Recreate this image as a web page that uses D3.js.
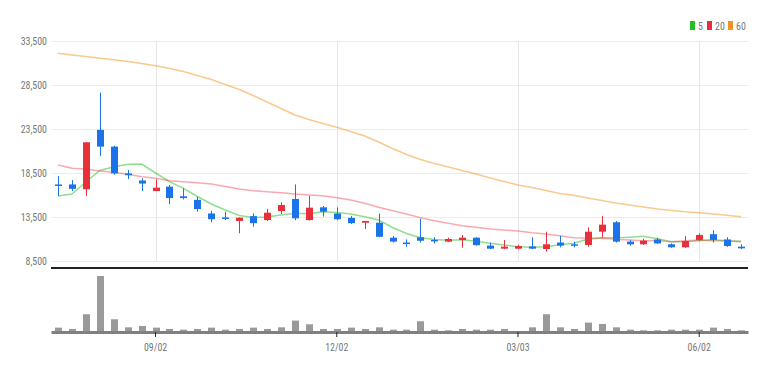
<!DOCTYPE html>
<html>
<head>
<meta charset="utf-8">
<script src="https://cdn.jsdelivr.net/npm/d3@7"></script>
<style>
  html, body { margin: 0; padding: 0; background: #fff; }
  svg text { font-family: 'Liberation Sans Narrow', 'Arial Narrow', 'Roboto', sans-serif; font-stretch: condensed; }
</style>
</head>
<body>
<svg id="canvas" width="768" height="373"></svg>
<script>
(function() {
// weekly candles, Jul 2024 - Jun 2025
var dates = ["2024-07-15","2024-07-22","2024-07-29","2024-08-05","2024-08-12","2024-08-19","2024-08-26",
  "2024-09-02","2024-09-09","2024-09-16","2024-09-23","2024-09-30","2024-10-07","2024-10-14","2024-10-21",
  "2024-10-28","2024-11-04","2024-11-11","2024-11-18","2024-11-25","2024-12-02","2024-12-09","2024-12-16",
  "2024-12-23","2024-12-30","2025-01-06","2025-01-13","2025-01-20","2025-01-27","2025-02-03","2025-02-10",
  "2025-02-17","2025-02-24","2025-03-03","2025-03-10","2025-03-17","2025-03-24","2025-03-31","2025-04-07",
  "2025-04-14","2025-04-21","2025-04-28","2025-05-05","2025-05-12","2025-05-19","2025-05-26","2025-06-02",
  "2025-06-09","2025-06-16","2025-06-23"]

var open  = [17200,17200,16650,23400,21500,18450,17650,16450,16950,15850,15450,13900,13450,13050,13600,13150,
  14180,15550,13150,14600,13900,13400,12850,12850,11150,10600,11200,10900,10700,10890,11150,10250,9900,9900,
  10150,9860,10600,10400,10320,11830,12900,10700,10400,10950,10400,10060,10890,11550,10950,10130]
var high  = [18150,17700,22000,27650,21600,18850,17900,17780,17150,16750,15800,14200,14100,13450,13900,14400,
  15170,17200,15920,14750,14600,13600,13050,13900,11350,10950,13300,11200,11150,11450,11200,10600,10890,10350,
  11200,11830,11350,10700,12330,13610,13050,10900,11030,11150,10500,11340,11650,12000,11200,10400]
var low   = [15900,16450,15890,20450,18300,17800,16450,16450,14950,15500,14100,12900,13150,11650,12400,13050,
  13840,13150,13100,13550,13150,12700,12140,11200,10600,10100,10600,10500,10650,10010,10250,9850,9850,9850,
  9850,9560,10050,10050,10130,11150,10600,10250,10320,10450,10000,10000,10800,10600,10100,9850]
var close = [17100,16700,21990,21500,18450,18250,17300,16830,15650,15650,14400,13250,13350,13420,12800,13990,
  14860,13350,14560,14100,13250,12800,13050,11250,10700,10450,10800,10800,11000,11150,10300,9900,10130,10200,
  9900,10400,10250,10300,11830,12630,10700,10400,10810,10500,10060,10770,11460,10900,10200,9940]

var ma5  = [15890,16110,17480,18780,19220,19490,19520,18500,17510,16760,15830,14980,14300,13670,13440,13500,
  13730,13920,13880,14100,14010,13840,13530,13160,12310,11630,11140,10940,10850,10920,10740,10510,10320,10130,
  10060,10130,10350,10510,10970,11140,11140,11210,11310,11020,10690,10690,10800,10920,10810,10750]
var ma20 = [19410,19030,18960,18730,18580,18350,18080,17900,17630,17510,17400,17250,16970,16680,16490,16380,
  16260,16110,16000,15920,15690,15430,15060,14600,14220,13840,13420,13080,12780,12510,12330,12140,12020,11910,
  11720,11570,11380,11150,11080,11080,10970,10890,10810,10810,10690,10810,10890,10810,10770,10690]
var ma60 = [32100,31910,31740,31550,31360,31170,30940,30690,30380,30030,29580,29130,28560,27990,27310,26570,
  25830,25090,24580,24130,23690,23220,22700,22020,21280,20600,20030,19580,19180,18780,18390,17930,17530,17140,
  16850,16510,16170,15970,15660,15380,15090,14860,14640,14410,14240,14090,13990,13840,13690,13530]

var volume = [130000,90000,530000,1670000,380000,140000,180000,130000,90000,70000,90000,130000,70000,90000,
  130000,90000,140000,340000,230000,90000,90000,130000,90000,140000,70000,70000,320000,70000,50000,90000,
  70000,70000,90000,30000,140000,530000,140000,90000,280000,240000,140000,70000,50000,50000,70000,70000,
  70000,130000,90000,50000]

var yTicks = [8500, 13500, 18500, 23500, 28500, 33500]
var xTicks = ["2024-09-02", "2024-12-02", "2025-03-03", "2025-06-02"]

var maNames = ["5", "20", "60"]
var maColors = ["#22bf22", "#ee2b3b", "#f39322"]

var upColor = "#e8303a", downColor = "#1a73e8"
var left = 51, right = 748

const svg = d3.select("#canvas")

var x = d3.scaleBand().domain(dates).range([left, right])
var y = d3.scaleLinear().domain([8500, 33500]).range([261, 41])
var yv = d3.scaleLinear().domain([0, d3.max(volume)]).range([332, 276])

// squeeze text a bit, the original uses a condensed face
function narrow(sel) {
  sel.each(function() {
    var w = this.getComputedTextLength()
    d3.select(this).attr("textLength", w * 0.86).attr("lengthAdjust", "spacingAndGlyphs")
  })
}

// horizontal grid + price labels
var yAxis = svg.append("g")
  .attr("transform", "translate(" + left + ",0)")
  .call(d3.axisLeft(y).tickValues(yTicks).tickSize(-(right - left)).tickPadding(4)
    .tickFormat(d3.format(",")))
yAxis.select(".domain").remove()
yAxis.selectAll("line").attr("stroke", "#ececec")
yAxis.selectAll("text").attr("fill", "#777").style("font-size", "11.5px").call(narrow)

// vertical grid at date ticks
svg.append("g")
  .selectAll("line")
  .data(xTicks)
  .join("line")
  .attr("x1", d => Math.round(x(d) + x.bandwidth() / 2) + 0.5)
  .attr("x2", d => Math.round(x(d) + x.bandwidth() / 2) + 0.5)
  .attr("y1", y(33500))
  .attr("y2", y(8500))
  .attr("stroke", "#e6e6e6")

// moving averages
var maData = [ma5, ma20, ma60]
var line = d3.line()
  .x((d, i) => x(dates[i]) + x.bandwidth() / 2)
  .y(d => y(d))
svg.append("g")
  .selectAll("path")
  .data(maData)
  .join("path")
  .attr("d", line)
  .attr("fill", "none")
  .attr("stroke", (d, i) => maColors[i])
  .attr("stroke-opacity", (d, i) => i == 1 ? 0.4 : 0.5)
  .attr("stroke-width", 1.5)

// candles
var candles = svg.append("g")
  .selectAll("g")
  .data(dates)
  .join("g")
var col = (d, i) => close[i] >= open[i] ? upColor : downColor
candles.append("line")
  .attr("x1", (d, i) => Math.round(x(d) + x.bandwidth() / 2) + 0.5)
  .attr("x2", (d, i) => Math.round(x(d) + x.bandwidth() / 2) + 0.5)
  .attr("y1", (d, i) => y(high[i]))
  .attr("y2", (d, i) => y(low[i]))
  .attr("stroke", col)
candles.append("rect")
  .attr("x", (d, i) => Math.round(x(d) + x.bandwidth() / 2) - 3)
  .attr("width", 7)
  .attr("y", (d, i) => y(Math.max(open[i], close[i])))
  .attr("height", (d, i) => Math.max(1.5, Math.abs(y(open[i]) - y(close[i]))))
  .attr("fill", col)

// separator between price and volume
svg.append("line")
  .attr("x1", left).attr("x2", right)
  .attr("y1", 268).attr("y2", 268)
  .attr("stroke", "#222").attr("stroke-width", 2)

// volume bars
svg.append("g")
  .selectAll("rect")
  .data(volume)
  .join("rect")
  .attr("x", (d, i) => Math.round(x(dates[i]) + x.bandwidth() / 2) - 3)
  .attr("width", 7)
  .attr("y", d => yv(d))
  .attr("height", d => yv(0) - yv(d))
  .attr("fill", "#9a9a9a")

// date axis
var xAxis = svg.append("g")
  .attr("transform", "translate(0," + yv(0) + ")")
  .call(d3.axisBottom(x).tickValues(xTicks).tickSize(5).tickSizeOuter(0).tickPadding(6)
    .tickFormat(d => d.slice(5, 7) + "/" + d.slice(8, 10)))
xAxis.select(".domain").attr("stroke", "#808080").attr("stroke-width", 3)
xAxis.selectAll("line").attr("stroke", "#222")
xAxis.selectAll("text").attr("fill", "#777").style("font-size", "11.5px").call(narrow)

// legend
var legend = svg.append("g").attr("transform", "translate(690,21)")
var lx = [0, 17, 38]
legend.selectAll("rect")
  .data(maNames)
  .join("rect")
  .attr("x", (d, i) => lx[i])
  .attr("y", 0)
  .attr("width", 5).attr("height", 9)
  .attr("fill", (d, i) => maColors[i])
legend.selectAll("text")
  .data(maNames)
  .join("text")
  .attr("x", (d, i) => lx[i] + 8)
  .attr("y", 9)
  .attr("fill", "#777")
  .style("font-size", "11.5px")
  .text(d => d)
  .call(narrow)
})();
</script>
</body>
</html>
